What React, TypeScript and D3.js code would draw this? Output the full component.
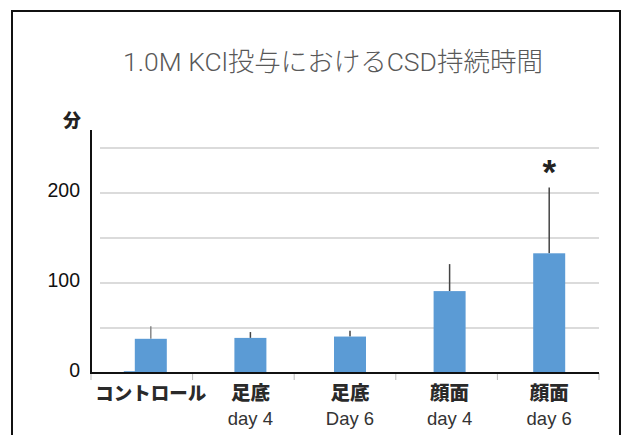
import React from "react";
import * as d3 from "d3";

// CSD duration (minutes) after 1.0M KCl administration
const categories = ["コントロール", "足底", "足底", "顔面", "顔面"];
const subLabels = ["", "day 4", "Day 6", "day 4", "day 6"];
const means = [38, 39, 40.5, 91, 133];
const errors = [14, 6.5, 6.5, 30, 73];
const significant = [false, false, false, false, true];
// small secondary measurement shown for the control group only
const controlBaseline = 2;
const controlBaselineError = 7;

const yTicks = [0, 100, 200];
const gridValues = [50, 100, 150, 200, 250];

const W = 622;
const H = 435;

export default function App() {
  const keys = categories.map((_, i) => String(i));
  const y = d3.scaleLinear().domain([0, 270]).range([373, 130]);
  const xAxis = d3.scaleBand().domain(keys).range([91, 599]);
  const xBars = d3.scaleBand().domain(keys).range([101, 599]);
  const barW = 32;
  const cx = (i: number) => (xBars(String(i)) as number) + xBars.bandwidth() / 2;
  const boundaries = keys.map((k) => xAxis(k) as number).concat([599]);

  return (
    <svg width={W} height={H} style={{ position: "absolute", left: 0, top: 0 }}>
      <rect x={0} y={0} width={W} height={H} fill="#fff" />
      <rect x={12} y={11} width={608} height={440} fill="none" stroke="#111" strokeWidth={2} />

      <text
        x={333}
        y={71}
        textAnchor="middle"
        fontFamily="Roboto, 'Noto Sans CJK JP', sans-serif"
        fontWeight={300}
        fontSize={26.5}
        fill="#595959"
      >
        1.0M KCl投与におけるCSD持続時間
      </text>

      <text
        x={72}
        y={127}
        textAnchor="middle"
        fontFamily="'Noto Sans CJK JP', sans-serif"
        fontWeight={900}
        fontSize={18}
        fill="#222"
      >
        分
      </text>

      {gridValues.map((v) => (
        <line key={v} x1={100} x2={599} y1={y(v)} y2={y(v)} stroke="#cfcfcf" strokeWidth={1.5} />
      ))}

      {yTicks.map((v) => (
        <text
          key={v}
          x={80}
          y={y(v) + 4}
          textAnchor="end"
          fontFamily="'Liberation Sans', Arial, sans-serif"
          fontSize={19.5}
          fill="#111"
        >
          {v}
        </text>
      ))}

      {boundaries.map((b, i) => (
        <line key={i} x1={b} x2={b} y1={373} y2={380} stroke="#bbb" strokeWidth={1} />
      ))}

      {/* control secondary bar, drawn behind the main bar */}
      <rect
        x={cx(0) - 11 - barW / 2}
        y={y(controlBaseline)}
        width={barW}
        height={y(0) - y(controlBaseline)}
        fill="#5b9bd5"
      />
      <line
        x1={cx(0) - 11}
        x2={cx(0) - 11}
        y1={y(controlBaseline)}
        y2={y(controlBaseline + controlBaselineError)}
        stroke="#666"
        strokeWidth={1.5}
      />

      {means.map((m, i) => (
        <g key={i}>
          <line
            x1={cx(i)}
            x2={cx(i)}
            y1={y(m)}
            y2={y(m + errors[i])}
            stroke={i === 0 ? "#888" : "#444"}
            strokeWidth={1.5}
          />
          <rect x={cx(i) - barW / 2} y={y(m)} width={barW} height={y(0) - y(m)} fill="#5b9bd5" />
          {significant[i] && (
            <text
              x={cx(i)}
              y={y(m + errors[i]) - 4}
              textAnchor="middle"
              fontFamily="'Liberation Sans', Arial, sans-serif"
              fontWeight={700}
              fontSize={35}
              fill="#222"
            >
              *
            </text>
          )}
        </g>
      ))}

      <line x1={91} x2={91} y1={130} y2={374} stroke="#111" strokeWidth={2} />
      <line x1={90} x2={599} y1={373} y2={373} stroke="#111" strokeWidth={2} />

      {categories.map((c, i) => (
        <g key={i}>
          <text
            x={cx(i)}
            y={400}
            textAnchor="middle"
            fontFamily="'Noto Sans CJK JP', sans-serif"
            fontWeight={900}
            fontSize={i === 0 ? 18.5 : 19.5}
            fill="#2a2a2a"
          >
            {c}
          </text>
          {subLabels[i] && (
            <text
              x={cx(i)}
              y={425}
              textAnchor="middle"
              fontFamily="'Liberation Sans', Arial, sans-serif"
              fontSize={18.5}
              fill="#333"
            >
              {subLabels[i]}
            </text>
          )}
        </g>
      ))}
    </svg>
  );
}
